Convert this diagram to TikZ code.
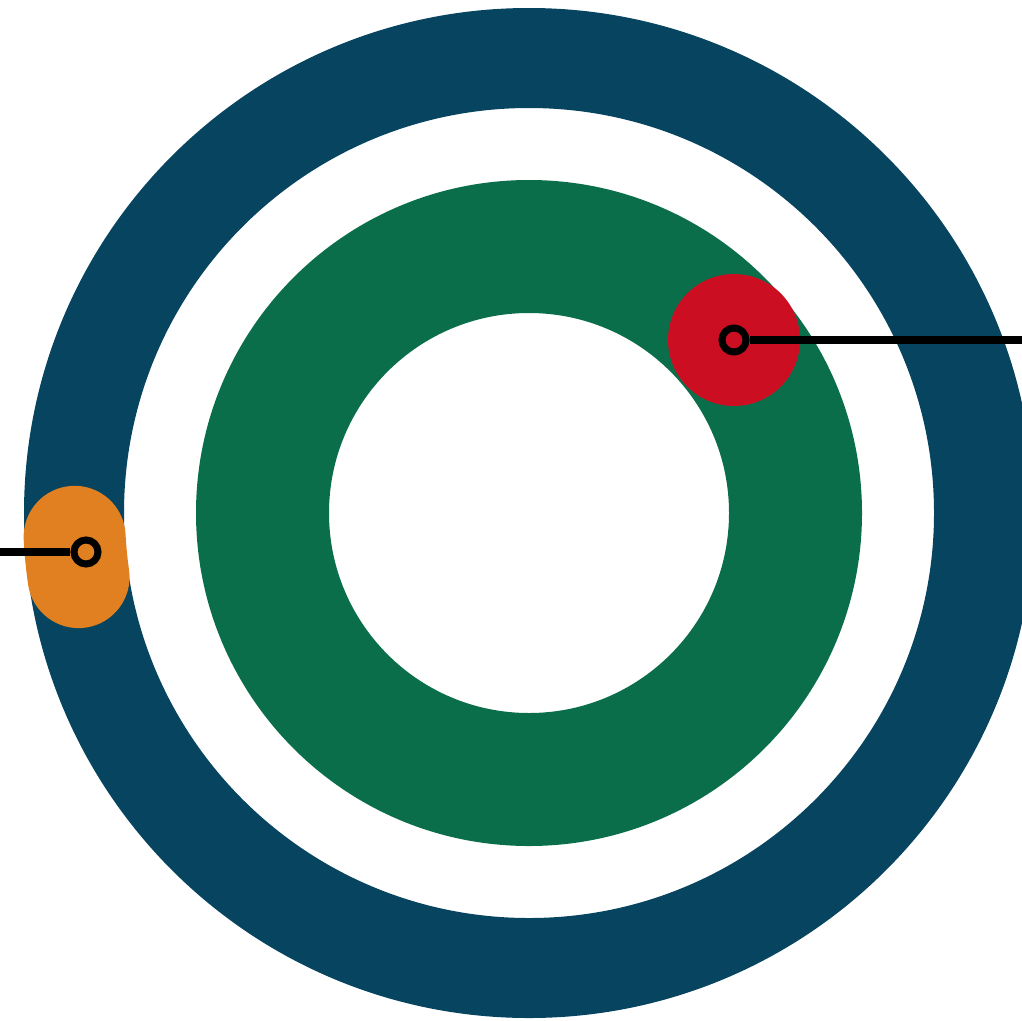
\documentclass[tikz,border=0pt]{standalone}
\usetikzlibrary{positioning}
\definecolor{ringblue}{HTML}{07445F}
\definecolor{ringgreen}{HTML}{0B6E4A}
\definecolor{spotred}{HTML}{CC0E22}
\definecolor{spotorange}{HTML}{E08020}
\tikzset{
  marker/.style={circle, draw=black, line width=0.07cm, minimum size=0.24cm, inner sep=0pt},
  lead/.style={draw=black, line width=0.08cm}
}
\begin{document}
\begin{tikzpicture}[x=0.01cm, y=0.01cm]
        \useasboundingbox (0,0) rectangle (1022,1020);
        \coordinate (centre) at (529,507);

        % Anneau exterieur
        \fill[ringblue, even odd rule] (centre) circle (505) circle (405);

        % Anneau interieur
        \fill[ringgreen, even odd rule] (centre) circle (333) circle (200);

        % Tache rouge
        \fill[spotred] (734,680) circle (66);

        % Tache orange sur l'anneau exterieur
        \fill[spotorange] ([shift={(183:506)}]centre)
          arc[start angle=183, end angle=188.1, radius=506]
          arc[start angle=188.1, end angle=368.1, radius=51]
          arc[start angle=188.1, end angle=183, radius=404]
          arc[start angle=3, end angle=183, radius=51] -- cycle;

        % Reperes et traits
        \node[marker] (pinRed) at (734,680) {};
        \node[marker] (pinOrange) at (86,468) {};
        \coordinate (endRed) at (1022,680);
        \coordinate (endOrange) at (0,468);
        \draw[lead] (pinRed.east) -- (endRed);
        \draw[lead] (pinOrange.west) -- (endOrange);
      \end{tikzpicture}
\end{document}
